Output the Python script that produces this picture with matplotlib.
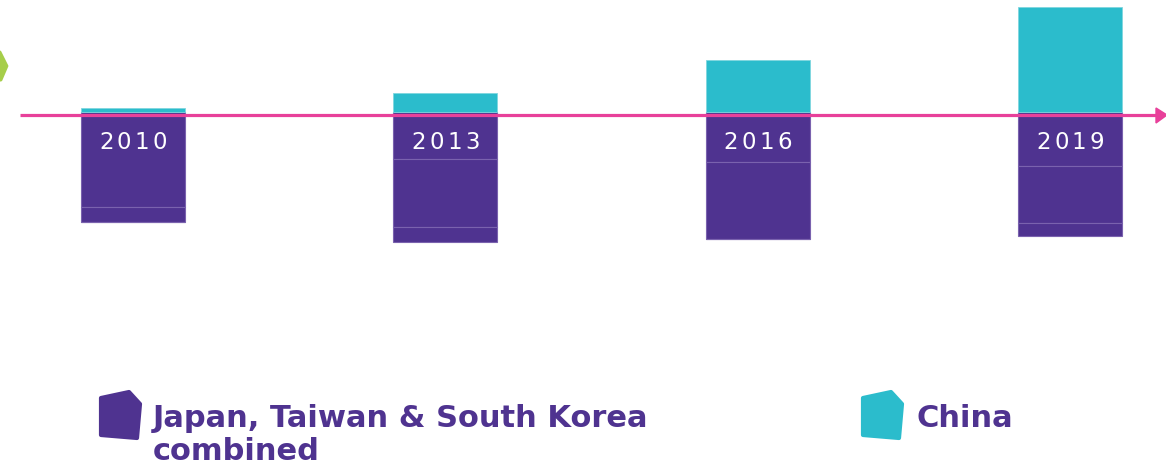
import numpy as np
import matplotlib
matplotlib.use("Agg")
import matplotlib.pyplot as plt
from matplotlib.patches import Polygon

plt.rcParams['font.family'] = ['DejaVu Sans']

# values (arbitrary units, 1 unit ~ 1 px)
years = ["2010", "2013", "2016", "2019"]
china = [4, 19, 52, 105]
# purple bar split into three stacked parts (thin lines inside the bars)
part1 = [95, 47, 50, 54]
part2 = [15, 68, 77, 57]
part3 = [0, 15, 0, 13]

purple = "#4F3390"
teal = "#2BBCCC"
pink = "#E8409A"
green = "#A6CE4A"
seg_line = "#7A62AE"

fig = plt.figure(figsize=(11.66, 4.68), dpi=100)
ax = fig.add_axes([0, 0, 1, 1])
x = np.arange(len(years))
w = 1 / 3

# purple parts go downwards from the zero line
p1 = -np.array(part1)
p2 = -np.array(part2)
p3 = -np.array(part3)
ax.bar(x, p1, w, color=purple, edgecolor=seg_line, linewidth=0.8, zorder=2)
ax.bar(x, p2, w, bottom=p1, color=purple, edgecolor=seg_line, linewidth=0.8, zorder=2)
ax.bar(x, p3, w, bottom=p1 + p2, color=purple, edgecolor=seg_line, linewidth=0.8, zorder=2)
ax.bar(x, china, w, color=teal, edgecolor="#7fd6df", linewidth=0.6, zorder=2)

# year labels, letter spaced
step = 0.057
for i, yr in enumerate(years):
    for j, ch in enumerate(yr):
        ax.text(x[i] + (j - 1.5) * step, -31, ch, color="white", fontsize=16.5,
                ha="center", va="center", zorder=5)

ax.set_xlim(-133 / 312.4, (1166 - 133) / 312.4)
ax.set_ylim(-356, 112)
ax.axis("off")

# overlay in pixel coordinates for decorations and legend
ov = fig.add_axes([0, 0, 1, 1], facecolor="none")
ov.set_xlim(0, 1166)
ov.set_ylim(468, 0)
ov.axis("off")

# pink arrow axis
ov.plot([20, 1158], [115, 115], color=pink, lw=2.3, zorder=6, solid_capstyle="butt")
ov.add_patch(Polygon([[1156, 108], [1167, 115], [1156, 123]], closed=True,
                     color=pink, zorder=6))

# green shape peeking in at the left edge
ov.add_patch(Polygon([[-10, 50], [0, 52], [7, 66], [1, 80], [-10, 82]], closed=True,
                     facecolor=green, edgecolor=green, lw=2, joinstyle="round"))

# legend shapes
def blob(x0, y0, c):
    pts = [[x0 + 2, y0 + 6], [x0 + 30, y0], [x0 + 41, y0 + 12],
           [x0 + 38, y0 + 46], [x0 + 2, y0 + 43]]
    ov.add_patch(Polygon(pts, closed=True, facecolor=c, edgecolor=c, lw=3,
                         joinstyle="round"))

blob(99, 392, purple)
blob(861, 392, teal)

ov.text(153, 427, "Japan, Taiwan & South Korea", color=purple, fontsize=22,
        fontweight="bold", va="baseline")
ov.text(153, 460, "combined", color=purple, fontsize=22,
        fontweight="bold", va="baseline")
ov.text(917, 427, "China", color=purple, fontsize=22,
        fontweight="bold", va="baseline")

fig.savefig("out.png", dpi=100)
